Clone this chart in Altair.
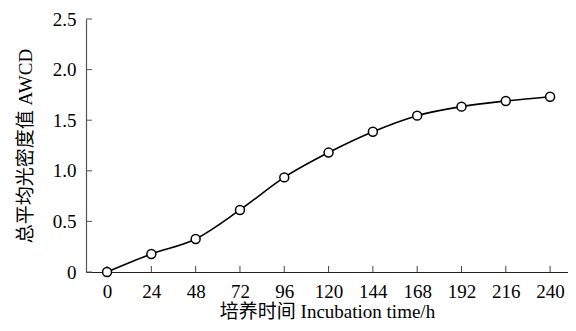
import altair as alt
import pandas as pd

hours = [0, 24, 48, 72, 96, 120, 144, 168, 192, 216, 240]
awcd = [0.0, 0.178, 0.326, 0.613, 0.935, 1.18, 1.386, 1.545, 1.634, 1.69, 1.732]
x_ticks = [0, 24, 48, 72, 96, 120, 144, 168, 192, 216, 240]
y_ticks = [0, 0.5, 1.0, 1.5, 2.0, 2.5]

df = pd.DataFrame({"h": hours, "awcd": awcd})
xt = pd.DataFrame({"t": x_ticks})
yt = pd.DataFrame({"t": y_ticks})

FONT = "Liberation Serif, Noto Sans CJK SC"
W, H = 482, 253

xscale = alt.Scale(domain=[-11.4, 249.7], nice=False, zero=False)
yscale = alt.Scale(domain=[0, 2.5], nice=False)

xaxis = alt.Axis(values=x_ticks, title="培养时间 Incubation time/h", tickSize=0,
                 labelPadding=10, titlePadding=1, grid=False,
                 labelExpr="datum.value", domainColor="#222222")
yaxis = alt.Axis(values=y_ticks, title="总平均光密度值 AWCD", tickSize=0,
                 labelPadding=10, titlePadding=17, grid=False,
                 labelExpr="datum.value == 0 ? '0' : format(datum.value, '.1f')",
                 domainColor="#555555")

line = alt.Chart(df).mark_line(color="black", strokeWidth=1.6, interpolate="monotone").encode(
    x=alt.X("h:Q", scale=xscale, axis=xaxis),
    y=alt.Y("awcd:Q", scale=yscale, axis=yaxis),
)
pts = alt.Chart(df).mark_point(shape="circle", filled=True, fill="white", stroke="black",
                               strokeWidth=1.5, size=80, opacity=1).encode(
    x=alt.X("h:Q", scale=xscale),
    y=alt.Y("awcd:Q", scale=yscale),
)
xticks = alt.Chart(xt).mark_rule(color="#444444", strokeWidth=1).encode(
    x=alt.X("t:Q", scale=xscale),
    y=alt.value(H),
    y2=alt.value(H - 6),
)
yticks = alt.Chart(yt).mark_rule(color="#555555", strokeWidth=1).encode(
    y=alt.Y("t:Q", scale=yscale),
    x=alt.value(0),
    x2=alt.value(6),
)

chart = alt.layer(xticks, yticks, line, pts).properties(
    width=W, height=H,
    autosize=alt.AutoSizeParams(type="none"),
    padding={"left": 78, "top": 11, "right": 0, "bottom": 51},
).configure_view(stroke=None).configure_axis(
    labelFont=FONT, titleFont=FONT, labelFontSize=19, titleFontSize=19,
    labelColor="black", titleColor="black", titleFontWeight="normal",
    domainWidth=1.2,
)

chart.save("out.html", embed_options={"renderer": "svg", "actions": False})
